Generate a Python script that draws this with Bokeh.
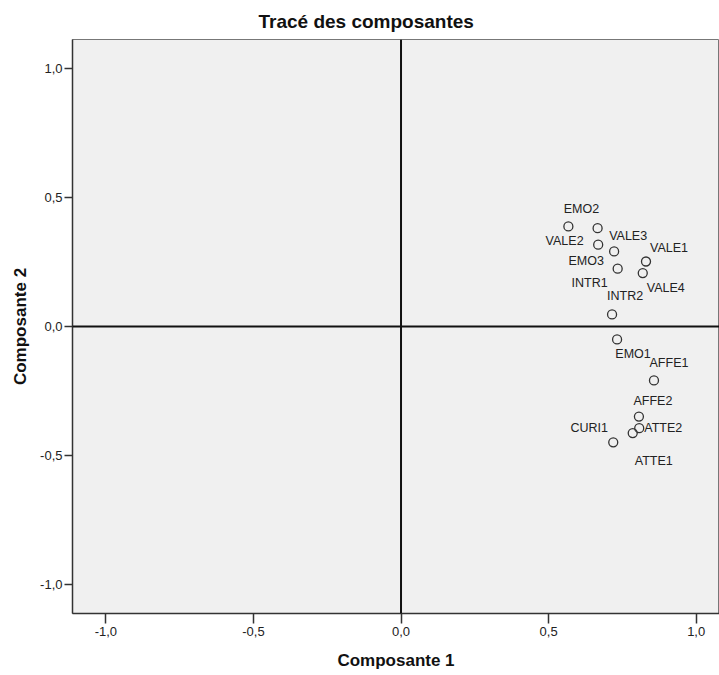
from bokeh.plotting import figure
from bokeh.models import ColumnDataSource, Span, FixedTicker
from bokeh.core.properties import value
from bokeh.embed import file_html
from bokeh.resources import INLINE

# ---- data (component loadings) ----
variables = ["EMO2", "VALE2", "EMO3", "VALE3", "VALE1", "INTR1", "VALE4",
             "INTR2", "EMO1", "AFFE1", "AFFE2", "ATTE2", "ATTE1", "CURI1"]
comp1 = [0.567, 0.666, 0.668, 0.722, 0.830, 0.734, 0.819,
         0.715, 0.732, 0.857, 0.806, 0.807, 0.785, 0.719]
comp2 = [0.388, 0.381, 0.317, 0.291, 0.252, 0.224, 0.207,
         0.047, -0.050, -0.209, -0.349, -0.394, -0.413, -0.449]
# label placement (pixel offsets of each label centre from its point)
label_dx = [13, -33, -12, 14, 23, -28, 23, 13, 16, 15, 14, 24, 21, -24]
label_dy = [-17, 13, 16, -15, -13, 14, 15, -18, 15, -17, -16, 0, 28, -14]

tick_values = [-1.0, -0.5, 0.0, 0.5, 1.0]
tick_labels = ["-1,0", "-0,5", "0,0", "0,5", "1,0"]

title_text = "Tracé des composantes"
xlabel_text = "Composante 1"
ylabel_text = "Composante 2"

FONT = "Liberation Sans"

src = ColumnDataSource(dict(x=comp1, y=comp2, name=variables,
                            dx=label_dx, dy=label_dy))

p = figure(output_backend="svg", toolbar_location=None,
           frame_width=647, frame_height=574,
           x_range=(-1.113, 1.079), y_range=(-1.1125, 1.1125),
           min_border_left=72, min_border_right=0,
           min_border_top=37, min_border_bottom=10,
           title=title_text)

p.title.align = "left"
p.title.offset = 186
p.title.text_font = FONT
p.title.text_font_size = "19px"
p.title.text_font_style = "bold"
p.title.text_color = "#111111"
p.title.standoff = 16

p.background_fill_color = "#f0f0f0"
p.border_fill_color = "white"
p.outline_line_color = "#777777"
p.outline_line_width = 1
p.xgrid.visible = False
p.ygrid.visible = False

for ax, out in ((p.xaxis, 10), (p.yaxis, 8)):
    ax.ticker = FixedTicker(ticks=tick_values)
    ax.major_label_overrides = {v: l for v, l in zip(tick_values, tick_labels)}
    ax.minor_tick_line_color = None
    ax.major_tick_in = 0
    ax.major_tick_out = out
    ax.major_tick_line_color = "#333333"
    ax.major_tick_line_width = 1.5
    ax.axis_line_color = "#333333"
    ax.axis_line_width = 1.5
    ax.major_label_text_font = FONT
    ax.major_label_text_font_size = "13px"
    ax.major_label_text_color = "#222222"
    ax.axis_label_text_font = FONT
    ax.axis_label_text_font_size = "17px"
    ax.axis_label_text_font_style = "bold"
    ax.axis_label_text_color = "#111111"

p.xaxis.major_label_standoff = 3
p.yaxis.major_label_standoff = 2
p.xaxis.axis_label = xlabel_text
p.yaxis.axis_label = ylabel_text
p.xaxis.axis_label_standoff = 12
p.yaxis.axis_label_standoff = 7

# zero reference lines
p.add_layout(Span(location=0, dimension="height", line_color="#111111", line_width=2))
p.add_layout(Span(location=0, dimension="width", line_color="#111111", line_width=2))

p.scatter("x", "y", source=src, marker="circle", size=9,
          fill_color=None, line_color="#333333", line_width=1.3)

p.text("x", "y", text="name", source=src, x_offset="dx", y_offset="dy",
       text_align="center", text_baseline="middle",
       text_font=value(FONT), text_font_size="12.5px", text_color="#222222")

open("out.html", "w").write(file_html(p, INLINE))
